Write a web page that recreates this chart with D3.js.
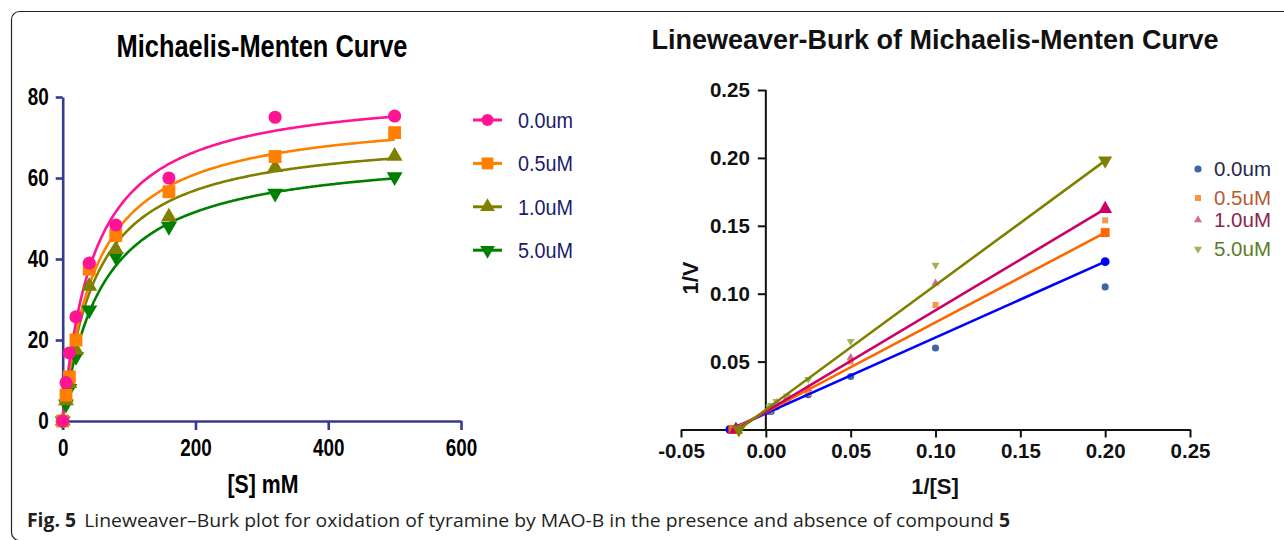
<!DOCTYPE html>
<html><head><meta charset="utf-8">
<script src="https://cdn.jsdelivr.net/npm/d3@7"></script>
<style>
html,body{margin:0;padding:0;background:#fff;}
svg{display:block;}
</style></head>
<body>
<svg id="c" width="1284" height="540"></svg>
<script>
// ---------- DATA ----------
const seriesNames = ["0.0um", "0.5uM", "1.0uM", "5.0uM"];
// Michaelis-Menten plot
const sConc = [0, 5, 10, 20, 40, 80, 160, 320, 500];
const vel00 = [0, 9.5, 16.8, 25.7, 39.0, 48.4, 60.0, 75.0, 75.3];
const vel05 = [0, 6.4, 10.9, 20.0, 37.5, 45.8, 56.6, 65.3, 71.2];
const vel10 = [0, 5.0, 9.3, 17.5, 33.3, 42.4, 50.4, 62.6, 65.4];
const vel50 = [0, 4.2, 8.0, 15.9, 27.4, 40.6, 48.0, 56.2, 60.3];
// fitted Michaelis-Menten parameters
const vmaxFit = [82.3, 76.6, 71.4, 67.1];
const kmFit = [47.5, 51.4, 50.6, 60.0];
const mmXTicks = [0, 200, 400, 600];
const mmYTicks = [0, 20, 40, 60, 80];
// Lineweaver-Burk plot
const invS = [0.2, 0.1, 0.05, 0.025, 0.0125, 0.00625, 0.003125, 0.002];
const inv00 = [0.105, 0.060, 0.039, 0.0256, 0.0207, 0.0167, 0.0133, 0.0133];
const inv05 = [0.154, 0.0917, 0.050, 0.0267, 0.0218, 0.0177, 0.0153, 0.0140];
const inv10 = [0.162, 0.1077, 0.053, 0.030, 0.0236, 0.0198, 0.0160, 0.0153];
const inv50 = [0.198, 0.121, 0.065, 0.037, 0.0246, 0.0208, 0.0178, 0.0166];
const lbXIntercept = [-0.0212, -0.0194, -0.0176, -0.0159];
const lbLineEndX = 0.2;
const lbLineEndY = [0.1236, 0.145, 0.1624, 0.198];
const lbXTicks = [-0.05, 0, 0.05, 0.10, 0.15, 0.20, 0.25];
const lbYTicks = [0.05, 0.10, 0.15, 0.20, 0.25];

// ---------- SETUP ----------
const svg = d3.select("#c");
const NARROW = 0.82;
function narrow(sel, sx) {
  sel.each(function () {
    const t = d3.select(this);
    const x = +t.attr("x") || 0;
    t.attr("x", x / sx).attr("transform", `scale(${sx},1)`);
  });
}

// frame
svg.append("rect").attr("x", 11.5).attr("y", 11.5).attr("width", 1320).attr("height", 529)
  .attr("rx", 8).attr("fill", "none").attr("stroke", "#222").attr("stroke-width", 1.2);

// ---------- LEFT: MICHAELIS-MENTEN ----------
const mmColors = ["#ff1493", "#ff8000", "#808000", "#008000"];
const mmSymbols = [d3.symbolCircle, d3.symbolSquare, d3.symbolTriangle, d3.symbolTriangle];
const mmSizes = [135, 165, 110, 110];
const mmRot = [0, 0, 0, 180];
const mmVel = [vel00, vel05, vel10, vel50];

const xS = d3.scaleLinear().domain([0, 600]).range([62.7, 461]);
const yV = d3.scaleLinear().domain([0, 80]).range([421, 97]);
const axisCol = "#363a8c";

const gL = svg.append("g");
const yAxL = gL.append("g").attr("transform", `translate(${xS(0)},0)`)
  .call(d3.axisLeft(yV).tickValues(mmYTicks).tickSize(7).tickPadding(7).tickSizeOuter(0));
const xAxL = gL.append("g").attr("transform", `translate(0,${yV(0)})`)
  .call(d3.axisBottom(xS).tickValues(mmXTicks).tickSize(9).tickPadding(10).tickSizeOuter(0));
[yAxL, xAxL].forEach(a => {
  a.selectAll("path,line").attr("stroke", axisCol).attr("stroke-width", 2.6);
  a.selectAll("text").attr("fill", "#000").attr("font-family", "Liberation Sans, Arial, sans-serif")
    .attr("font-weight", "bold").attr("font-size", 23);
  narrow(a.selectAll("text"), NARROW);
});

// curves (draw back to front: 5.0 first, 0.0 last)
const sFine = d3.range(0, 500.5, 2);
for (let i = 3; i >= 0; i--) {
  const line = d3.line().x(s => xS(s)).y(s => yV(vmaxFit[i] * s / (kmFit[i] + s)));
  gL.append("path").attr("d", line(sFine)).attr("fill", "none")
    .attr("stroke", mmColors[i]).attr("stroke-width", 2.6);
}
for (let i = 3; i >= 0; i--) {
  const sym = d3.symbol().type(mmSymbols[i]).size(mmSizes[i]);
  gL.append("g").selectAll("path").data(sConc.map((s, k) => [s, mmVel[i][k]])).join("path")
    .attr("d", sym)
    .attr("transform", d => `translate(${xS(d[0])},${yV(d[1])}) rotate(${mmRot[i]})`)
    .attr("fill", mmColors[i]);
}

// title & axis label
gL.append("text").attr("x", 262 / NARROW).attr("y", 57).attr("transform", `scale(${NARROW},1)`)
  .attr("text-anchor", "middle").attr("font-family", "Liberation Sans, Arial, sans-serif")
  .attr("font-weight", "bold").attr("font-size", 31).attr("fill", "#000").text("Michaelis-Menten Curve");
gL.append("text").attr("x", 263 / NARROW).attr("y", 493).attr("transform", `scale(${NARROW},1)`)
  .attr("text-anchor", "middle").attr("font-family", "Liberation Sans, Arial, sans-serif")
  .attr("font-weight", "bold").attr("font-size", 26).attr("fill", "#000").text("[S] mM");

// legend
const legL = gL.append("g");
const LS = 0.88;
seriesNames.forEach((n, i) => {
  const yy = 120 + i * 43.4;
  legL.append("line").attr("x1", 473).attr("x2", 502).attr("y1", yy).attr("y2", yy)
    .attr("stroke", mmColors[i]).attr("stroke-width", 3);
  legL.append("path").attr("d", d3.symbol().type(mmSymbols[i]).size(mmSizes[i] * 0.85)())
    .attr("transform", `translate(487.5,${yy}) rotate(${mmRot[i]})`).attr("fill", mmColors[i]);
  legL.append("text").attr("x", 518 / LS).attr("y", yy).attr("dy", "0.36em")
    .attr("transform", `scale(${LS},1)`)
    .attr("font-family", "Liberation Sans, Arial, sans-serif").attr("font-size", 22.5)
    .attr("fill", "#1b1b6e").text(n);
});

// ---------- RIGHT: LINEWEAVER-BURK ----------
const lbLineCol = ["#0000ff", "#ff6600", "#cc0066", "#808000"];
const lbPtCol = ["#3d65a8", "#f79646", "#d6699a", "#a0b35c"];
const lbTxtCol = ["#1f2a4d", "#b85a30", "#8c2454", "#5b7d2a"];
const lbSymbols = [d3.symbolCircle, d3.symbolSquare, d3.symbolTriangle, d3.symbolTriangle];
const lbRot = [0, 0, 0, 180];
const lbEndSize = [62, 80, 85, 85];
const lbPtSize = [40, 36, 28, 28];
const lbInv = [inv00, inv05, inv10, inv50];

const xL = d3.scaleLinear().domain([-0.05, 0.25]).range([681, 1190]);
const yL = d3.scaleLinear().domain([0, 0.25]).range([429.5, 90]);
const gR = svg.append("g");
const fmt = v => d3.format(".2f")(v).replace("\u2212", "-");
const yAxR = gR.append("g").attr("transform", `translate(${xL(0)},0)`)
  .call(d3.axisLeft(yL).tickValues(lbYTicks).tickFormat(fmt).tickSize(8).tickPadding(8).tickSizeOuter(0));
yAxR.select(".domain").attr("d", `M0,${yL(0)}V${yL(0.25)}`);
const xAxR = gR.append("g").attr("transform", `translate(0,${yL(0)})`)
  .call(d3.axisBottom(xL).tickValues(lbXTicks).tickFormat(fmt).tickSize(8).tickPadding(6).tickSizeOuter(0));
[yAxR, xAxR].forEach(a => {
  a.selectAll("path,line").attr("stroke", "#111").attr("stroke-width", 2);
  a.selectAll("text").attr("fill", "#111").attr("font-family", "Liberation Sans, Arial, sans-serif")
    .attr("font-weight", "bold").attr("font-size", 20.5);
});

// scatter points
for (let i = 0; i < 4; i++) {
  const sym = d3.symbol().type(lbSymbols[i]).size(lbPtSize[i]);
  gR.append("g").selectAll("path").data(invS.map((x, k) => [x, lbInv[i][k]])).join("path")
    .attr("d", sym)
    .attr("transform", d => `translate(${xL(d[0])},${yL(d[1])}) rotate(${lbRot[i]})`)
    .attr("fill", lbPtCol[i]);
}
// fitted lines with end markers
for (let i = 0; i < 4; i++) {
  const pts = [[lbXIntercept[i], 0], [lbLineEndX, lbLineEndY[i]]];
  gR.append("path").attr("d", d3.line().x(d => xL(d[0])).y(d => yL(d[1]))(pts))
    .attr("fill", "none").attr("stroke", lbLineCol[i]).attr("stroke-width", 2.6);
  const sym = d3.symbol().type(lbSymbols[i]).size(lbEndSize[i]);
  gR.append("g").selectAll("path").data(pts).join("path").attr("d", sym)
    .attr("transform", d => `translate(${xL(d[0])},${yL(d[1])}) rotate(${lbRot[i]})`)
    .attr("fill", lbLineCol[i]);
}

// titles & labels
gR.append("text").attr("x", 935).attr("y", 49).attr("text-anchor", "middle")
  .attr("font-family", "Liberation Sans, Arial, sans-serif").attr("font-weight", "bold")
  .attr("font-size", 27).attr("fill", "#111").text("Lineweaver-Burk of Michaelis-Menten Curve");
gR.append("text").attr("x", 935).attr("y", 494).attr("text-anchor", "middle")
  .attr("font-family", "Liberation Sans, Arial, sans-serif").attr("font-weight", "bold")
  .attr("font-size", 22).attr("fill", "#111").text("1/[S]");
gR.append("text").attr("transform", "translate(698,278) rotate(-90)").attr("text-anchor", "middle")
  .attr("font-family", "Liberation Sans, Arial, sans-serif").attr("font-weight", "bold")
  .attr("font-size", 22).attr("fill", "#111").text("1/V");

// legend
const legRY = [169, 198, 220, 249];
seriesNames.forEach((n, i) => {
  gR.append("path").attr("d", d3.symbol().type(lbSymbols[i]).size(lbPtSize[i])())
    .attr("transform", `translate(1198,${legRY[i]}) rotate(${lbRot[i]})`).attr("fill", lbPtCol[i]);
  gR.append("text").attr("x", 1214).attr("y", legRY[i]).attr("dy", "0.36em")
    .attr("font-family", "Liberation Sans, Arial, sans-serif").attr("font-size", 20.5)
    .attr("fill", lbTxtCol[i]).text(n);
});

// ---------- CAPTION ----------
const cap = svg.append("text").attr("x", 27).attr("y", 527)
  .attr("font-family", "Open Sans, Noto Sans, sans-serif").attr("font-size", 19).attr("fill", "#231f20");
cap.append("tspan").attr("font-weight", "bold").text("Fig. 5");
cap.append("tspan").attr("dx", 8).text("Lineweaver\u2013Burk plot for oxidation of tyramine by MAO-B in the presence and absence of compound ");
cap.append("tspan").attr("font-weight", "bold").text("5");
const w = cap.node().getComputedTextLength();
const target = 1010 - 27;
if (Math.abs(w - target) > 4) cap.attr("textLength", target).attr("lengthAdjust", "spacingAndGlyphs");
</script>
</body></html>
